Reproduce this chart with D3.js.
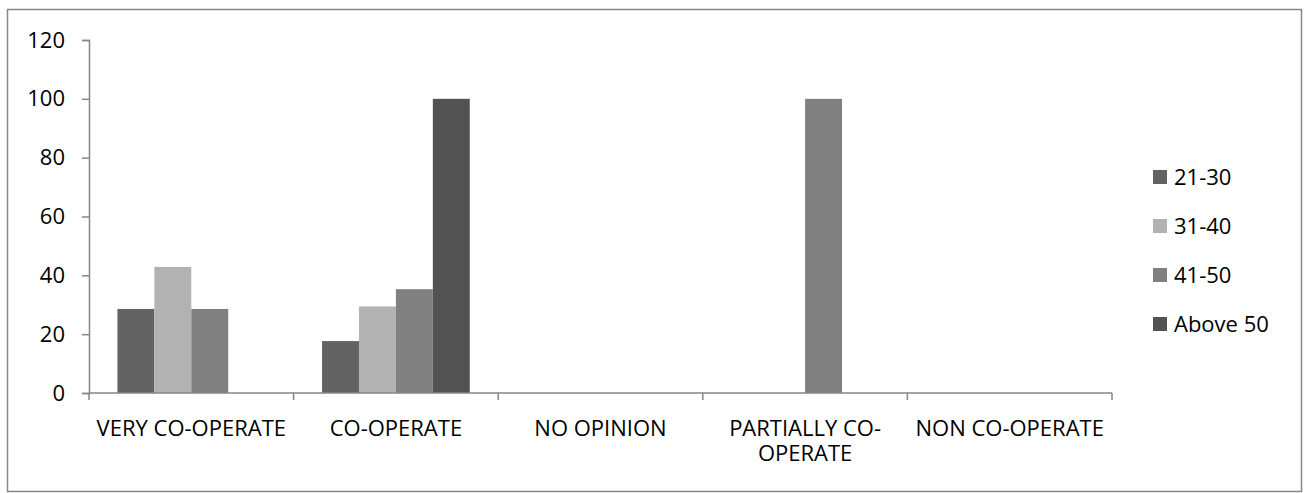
<!DOCTYPE html>
<html>
<head>
<meta charset="utf-8">
<script src="https://cdn.jsdelivr.net/npm/d3@7"></script>
<style>
  body { margin: 0; background: #fff; }
  text { font-family: "Open Sans", "Liberation Sans", sans-serif; fill: #000; }
</style>
</head>
<body>
<svg width="1304" height="493"></svg>
<script>
// categories along the x axis
var categories = ["VERY CO-OPERATE", "CO-OPERATE", "NO OPINION", "PARTIALLY CO-OPERATE", "NON CO-OPERATE"];
// age groups (series)
var series = ["21-30", "31-40", "41-50", "Above 50"];
var colors = ["#636363", "#b2b2b2", "#808080", "#525252"];
// values per series, one per category (percent)
var age21_30 = [28.57, 17.65, 0, 0, 0];
var age31_40 = [42.86, 29.41, 0, 0, 0];
var age41_50 = [28.57, 35.29, 0, 100, 0];
var above50 = [0, 100, 0, 0, 0];
var yTicks = [0, 20, 40, 60, 80, 100, 120];

var values = [age21_30, age31_40, age41_50, above50];
var fontSize = "22px";

var svg = d3.select("svg");

// chart border
svg.append("rect")
  .attr("x", 7.5).attr("y", 9.5)
  .attr("width", 1294).attr("height", 482)
  .attr("fill", "#fff")
  .attr("stroke", "#868686")
  .attr("stroke-width", 1.5);

var plotL = 89, plotR = 1112, plotT = 40, plotB = 393;

var x0 = d3.scaleBand().domain(categories).range([plotL, plotR]).padding(0);
var x1 = d3.scaleBand().domain(series).range([0, x0.bandwidth()]).paddingInner(0).paddingOuter(0.77);
var y = d3.scaleLinear().domain([0, 120]).range([plotB, plotT]);

// bars
var g = svg.append("g");
series.forEach(function(s, i) {
  g.selectAll(".b" + i)
    .data(values[i].map(function(v, j) { return {cat: categories[j], v: v}; }).filter(function(d) { return d.v > 0; }))
    .enter().append("rect")
    .attr("x", function(d) { return x0(d.cat) + x1(s); })
    .attr("y", function(d) { return y(d.v); })
    .attr("width", x1.bandwidth())
    .attr("height", function(d) { return plotB - y(d.v); })
    .attr("fill", colors[i]);
});

// y axis
var yAxis = svg.append("g")
  .attr("transform", "translate(" + plotL + ",0)")
  .call(d3.axisLeft(y).tickValues(yTicks).tickSize(7).tickPadding(17));
yAxis.attr("font-family", null).attr("font-size", null);
yAxis.select(".domain").attr("stroke", "#868686").attr("stroke-width", 1.5);
yAxis.selectAll(".tick line").attr("stroke", "#868686").attr("stroke-width", 1.5);
yAxis.selectAll(".tick text").style("font-size", fontSize);

// x axis: ticks at category boundaries
var xAxis = svg.append("g").attr("transform", "translate(0," + plotB + ")");
xAxis.append("line")
  .attr("x1", plotL).attr("x2", plotR)
  .attr("stroke", "#868686").attr("stroke-width", 1.5);
var bounds = categories.map(function(c) { return x0(c); }).concat([plotR]);
xAxis.selectAll(".xt").data(bounds).enter().append("line")
  .attr("x1", function(d) { return d; }).attr("x2", function(d) { return d; })
  .attr("y1", 0).attr("y2", 7)
  .attr("stroke", "#868686").attr("stroke-width", 1.5);

function wrapLines(label, maxW) {
  var tokens = label.match(/[^\s-]+-?/g);
  var tmp = svg.append("text").style("font-size", fontSize);
  var lines = [], cur = "";
  tokens.forEach(function(t) {
    var sep = (cur === "" || cur.slice(-1) === "-") ? "" : " ";
    var test = cur + sep + t;
    tmp.text(test);
    if (cur !== "" && tmp.node().getComputedTextLength() > maxW) {
      lines.push(cur);
      cur = t;
    } else {
      cur = test;
    }
  });
  lines.push(cur);
  tmp.remove();
  return lines;
}

categories.forEach(function(c) {
  var cx = x0(c) + x0.bandwidth() / 2;
  var lines = wrapLines(c, x0.bandwidth() - 2);
  lines.forEach(function(l, k) {
    xAxis.append("text")
      .attr("x", cx)
      .attr("y", 43 + k * 25)
      .attr("text-anchor", "middle")
      .style("font-size", fontSize)
      .text(l);
  });
});

// legend
var legend = svg.append("g").attr("transform", "translate(1153,177)");
series.forEach(function(s, i) {
  var row = legend.append("g").attr("transform", "translate(0," + (i * 49) + ")");
  row.append("rect").attr("x", 0).attr("y", -7).attr("width", 14).attr("height", 14).attr("fill", colors[i]);
  row.append("text").attr("x", 21).attr("y", 0).attr("dy", "0.36em").style("font-size", fontSize).text(s);
});
</script>
</body>
</html>
